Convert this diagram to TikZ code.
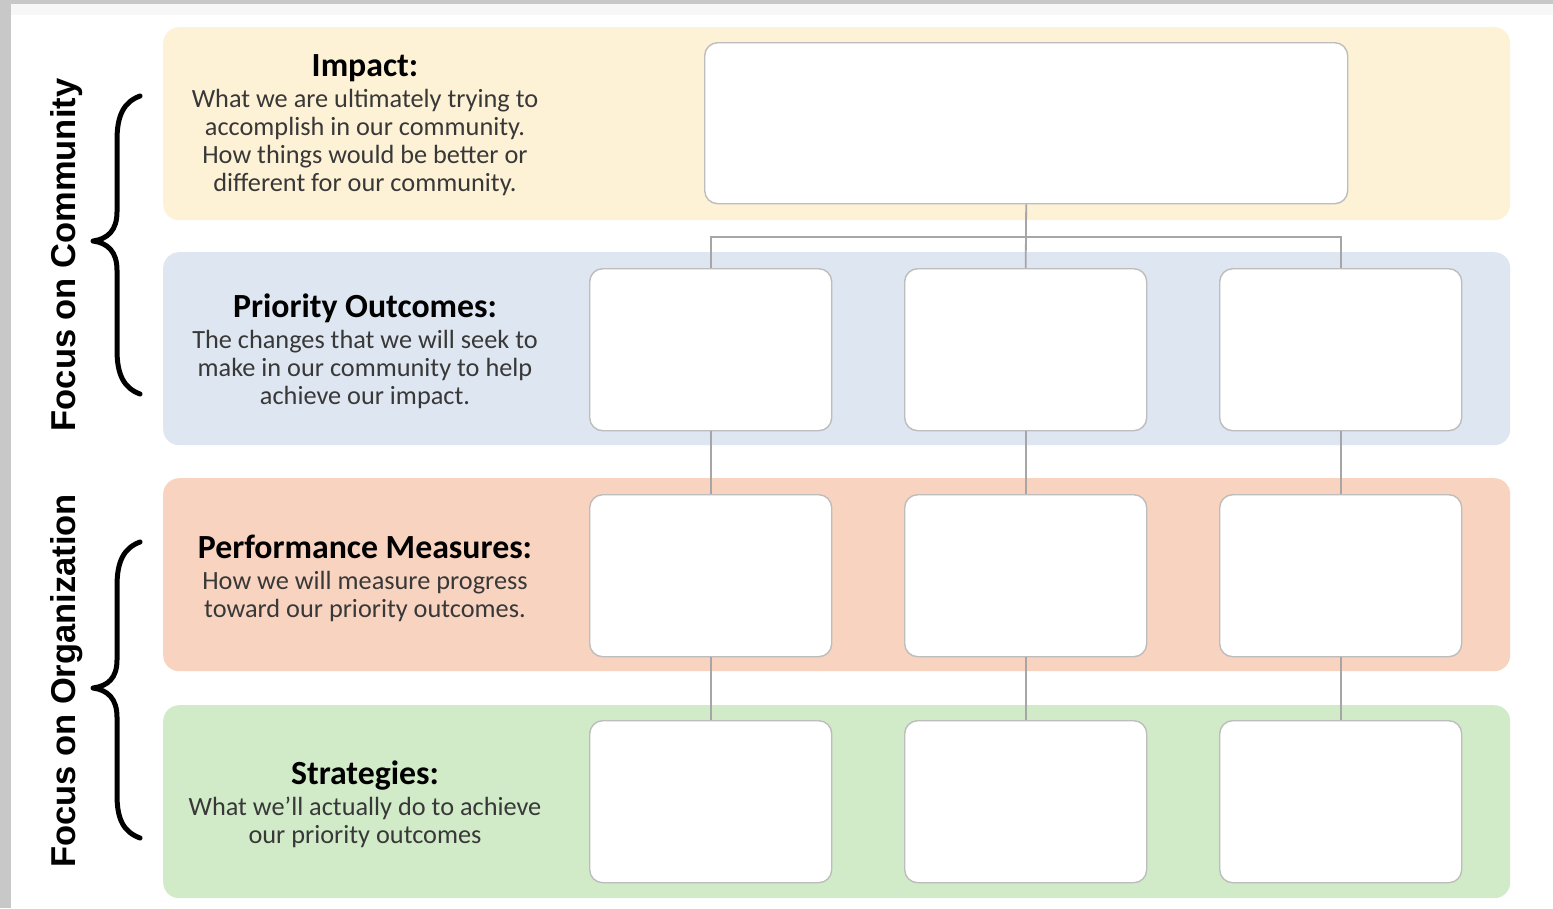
\documentclass[tikz,border=0pt]{standalone}
\usepackage{fontspec}
\setmainfont{Carlito}
\newfontfamily\arialf{Liberation Sans}
\begin{document}
\begin{tikzpicture}[x=1pt,y=-1pt,
  band/.style={draw=none,rounded corners=16pt,minimum width=1347pt,minimum height=193pt,inner sep=0pt,anchor=north west},
  cell/.style={draw=boxgray,line width=1.4pt,fill=white,rounded corners=13pt,minimum width=242pt,minimum height=162pt,inner sep=0pt,anchor=north west},
  conn/.style={draw=linegray,line width=1.8pt},
  lbl/.style={align=center,text=bodygray,font=\fontsize{26.3}{28}\selectfont,inner sep=0pt},
  ttl/.style={},
  side/.style={rotate=90,font=\arialf\bfseries\fontsize{34.5}{36}\selectfont,text=black,inner sep=0pt},
  bracestyle/.style={draw=black,line width=5pt,line cap=round,line join=round}]
\definecolor{boxgray}{HTML}{BDBDBD}
\definecolor{linegray}{HTML}{A6A6A6}
\definecolor{bodygray}{HTML}{383838}
\definecolor{cyellow}{HTML}{FEF2D6}
\definecolor{cblue}{HTML}{DEE6F1}
\definecolor{corange}{HTML}{F8D3C0}
\definecolor{cgreen}{HTML}{D1EBC8}
\definecolor{framegray}{HTML}{C8C8C8}
\newcommand{\ttlfont}{\color{black}\bfseries\fontsize{33.8}{36}\selectfont}
\useasboundingbox (0,0) rectangle (1553,908);
\fill[white] (0,0) rectangle (1553,908);
\fill[framegray] (0,0) rectangle (11,908);
\fill[framegray] (0,0) rectangle (1553,4);
\fill[black!3] (11,4) rectangle (1553,15);
% bands
\node[band,fill=cyellow] (bImp) at (163,27) {};
\node[band,fill=cblue] (bPO) at (163,252) {};
\node[band,fill=corange] (bPM) at (163,478) {};
\node[band,fill=cgreen] (bST) at (163,705) {};
% impact box
\node[cell,minimum width=643pt,minimum height=161pt] (imp) at (704,42) {};
% row boxes
\foreach \r/\y in {po/268,pm/494,st/720}{
  \node[cell] (\r1) at (589,\y) {};
  \node[cell] (\r2) at (904,\y) {};
  \node[cell] (\r3) at (1219,\y) {};
}
% connectors
\coordinate (bus) at (1025.5,237);
\draw[conn] (imp.south) -- (po2.north);
\draw[conn] (po1.north) |- (bus) -| (po3.north);
\foreach \c in {1,2,3}{
  \draw[conn] (po\c.south) -- (pm\c.north);
  \draw[conn] (pm\c.south) -- (st\c.north);
}
% left labels
\node[lbl] (tImp) at (365,125) {{\ttlfont Impact:}\\[3pt]
What we are ultimately trying to\\accomplish in our community.\\How things would be better or\\different for our community.};
\node[lbl] (tPO) at (365,351) {{\ttlfont Priority Outcomes:}\\[3pt]
The changes that we will seek to\\make in our community to help\\achieve our impact.};
\node[lbl] (tPM) at (365,578) {{\ttlfont Performance Measures:}\\[3pt]
How we will measure progress\\toward our priority outcomes.};
\node[lbl] (tST) at (365,804) {{\ttlfont Strategies:}\\[3pt]
What we'll actually do to achieve\\our priority outcomes};
% side labels
\node[side] (fc) at (67,255) {Focus on Community};
\node[side] (fo) at (67,681) {Focus on Organization};
% braces
\draw[bracestyle] (140,96) .. controls (124,102) and (117,115) .. (117,140) -- (117,212)
  .. controls (117,230) and (108,239) .. (93,241) .. controls (108,243) and (117,252) .. (117,270)
  -- (117,350) .. controls (117,375) and (124,388) .. (140,394);
\draw[bracestyle] (140,542) .. controls (124,548) and (117,561) .. (117,586) -- (117,660)
  .. controls (117,678) and (108,686) .. (93,688) .. controls (108,690) and (117,699) .. (117,717)
  -- (117,795) .. controls (117,820) and (124,832) .. (140,838);
\end{tikzpicture}
\end{document}
